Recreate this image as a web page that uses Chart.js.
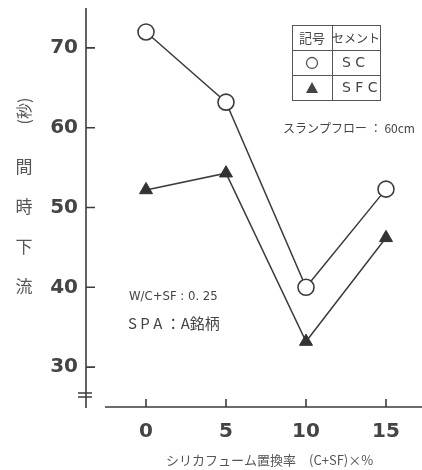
<!DOCTYPE html>
<html>
<head>
<meta charset="utf-8">
<script src="https://cdn.jsdelivr.net/npm/chart.js@4/dist/chart.umd.min.js"></script>
<style>
  html, body { margin: 0; padding: 0; background: #fff; }
  #wrap { width: 422px; height: 470px; }
</style>
</head>
<body>
<div id="wrap"><canvas id="graphOne"></canvas></div>
<script>
// replacement rate of silica fume (%)
var replaceRate = [0, 5, 10, 15];
var scTime = [72, 63.2, 40, 52.3];
var sfcTime = [52.2, 54.3, 33.2, 46.2];
var yTickVals = [30, 40, 50, 60, 70];
var xTickVals = [0, 5, 10, 15];

var ink = '#3c3c3c';
var jpFont = '"Noto Sans CJK JP", sans-serif';

var toPoints = (ys) => replaceRate.map((x, i) => ({ x: x, y: ys[i] }));

// axes, inward ticks, axis break, table and notes
var decor = {
    id: 'decor',
    afterDraw: (chart) => {
        var ctx = chart.ctx;
        var xs = chart.scales.x, ys = chart.scales.y;
        var ax = xs.left, ay = ys.bottom;
        ctx.save();
        ctx.strokeStyle = ink;
        ctx.lineWidth = 1.6;
        ctx.beginPath();
        ctx.moveTo(ax, ys.top);
        ctx.lineTo(ax, ay + 1);
        ctx.moveTo(105, ay);
        ctx.lineTo(chart.width, ay);
        yTickVals.forEach((v) => {
            var p = ys.getPixelForValue(v);
            ctx.moveTo(ax, p);
            ctx.lineTo(ax + 9, p);
        });
        xTickVals.forEach((v) => {
            var p = xs.getPixelForValue(v);
            ctx.moveTo(p, ay);
            ctx.lineTo(p, ay - 8);
        });
        // break mark
        ctx.moveTo(ax - 8, ay - 14); ctx.lineTo(ax + 6, ay - 14);
        ctx.moveTo(ax - 8, ay - 10); ctx.lineTo(ax + 6, ay - 10);
        ctx.stroke();

        // legend table
        ctx.lineWidth = 1;
        ctx.strokeStyle = '#555';
        ctx.strokeRect(292.5, 25.5, 88, 75);
        ctx.beginPath();
        ctx.moveTo(292, 50.5); ctx.lineTo(381, 50.5);
        ctx.moveTo(292, 75.5); ctx.lineTo(381, 75.5);
        ctx.moveTo(332.5, 25); ctx.lineTo(332.5, 101);
        ctx.stroke();
        ctx.fillStyle = '#444';
        ctx.textBaseline = 'middle';
        ctx.textAlign = 'center';
        ctx.font = '13px ' + jpFont;
        ctx.fillText('記号', 312, 38);
        ctx.font = '12px ' + jpFont;
        ctx.fillText('セメント', 356, 38);
        ctx.beginPath();
        ctx.arc(312, 63, 5.5, 0, Math.PI * 2);
        ctx.lineWidth = 1.3;
        ctx.stroke();
        ctx.beginPath();
        ctx.moveTo(312, 82); ctx.lineTo(318, 93); ctx.lineTo(306, 93);
        ctx.closePath();
        ctx.fill();
        ctx.textAlign = 'left';
        ctx.font = '14px "DejaVu Sans", sans-serif';
        ctx.fillText('S C', 342, 63);
        ctx.fillText('S F C', 342, 88);

        // notes
        ctx.font = '12px ' + jpFont;
        ctx.fillText('スランプフロー ： 60cm', 283, 128);
        ctx.font = '13px "DejaVu Sans Condensed", sans-serif';
        ctx.fillText('W/C+SF : 0. 25', 129, 297);
        ctx.font = '15px ' + jpFont;
        ctx.fillText('S P A ：A銘柄', 128, 323);

        // x title
        ctx.font = '13px ' + jpFont;
        ctx.fillStyle = '#555';
        ctx.fillText('シリカフューム置換率　(C+SF)×%', 166, 460);

        // y title, vertical
        ctx.textAlign = 'center';
        ctx.font = '17px ' + jpFont;
        ['流', '下', '時', '間'].forEach((c, i) => {
            ctx.fillText(c, 24, 287 - i * 40);
        });
        ctx.translate(24, 111);
        ctx.rotate(-Math.PI / 2);
        ctx.font = '16px ' + jpFont;
        ctx.fillText('(秒)', 0, 0);
        ctx.restore();
    }
};

new Chart(
    document.getElementById('graphOne'),
    {
        type: 'scatter',
        data: {
            datasets: [{
                label: 'SC',
                data: toPoints(scTime),
                showLine: true,
                borderColor: ink,
                borderWidth: 1.5,
                pointStyle: 'circle',
                pointRadius: 8,
                pointBorderWidth: 1.6,
                pointBackgroundColor: '#fff',
                pointBorderColor: ink
            }, {
                label: 'SFC',
                data: toPoints(sfcTime),
                showLine: true,
                borderColor: ink,
                borderWidth: 1.5,
                pointStyle: 'triangle',
                pointRadius: 7.5,
                pointBorderWidth: 1,
                pointBackgroundColor: '#333',
                pointBorderColor: '#333'
            }]
        },
        options: {
            responsive: true,
            maintainAspectRatio: false,
            animation: false,
            layout: { autoPadding: false, padding: { top: 8, left: 0, right: 0, bottom: 0 } },
            plugins: {
                legend: { display: false },
                tooltip: { enabled: false }
            },
            scales: {
                y: {
                    min: 25,
                    max: 75,
                    grid: { display: false },
                    border: { display: false },
                    afterBuildTicks: (s) => { s.ticks = yTickVals.map((v) => ({ value: v })); },
                    afterFit: (s) => { s.width = 86; s.paddingTop = 0; s.paddingBottom = 0; },
                    ticks: {
                        padding: 0,
                        color: '#444',
                        font: { family: '"DejaVu Sans", sans-serif', weight: 'bold', size: 20 }
                    }
                },
                x: {
                    type: 'linear',
                    min: -3.75,
                    max: 17.25,
                    grid: { display: false },
                    border: { display: false },
                    afterBuildTicks: (s) => { s.ticks = xTickVals.map((v) => ({ value: v })); },
                    afterFit: (s) => { s.height = 63; s.paddingLeft = 0; s.paddingRight = 0; },
                    ticks: {
                        padding: 5,
                        maxRotation: 0,
                        color: '#444',
                        font: { family: '"DejaVu Sans", sans-serif', weight: 'bold', size: 20 }
                    }
                }
            }
        },
        plugins: [decor]
    }
);
</script>
</body>
</html>
